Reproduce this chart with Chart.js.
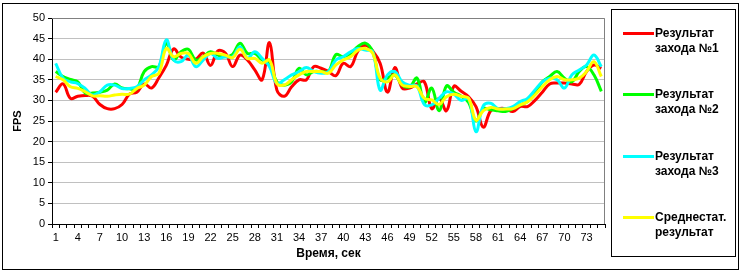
<!DOCTYPE html>
<html lang="ru">
<head>
<meta charset="UTF-8">
<title>FPS</title>
<script src="https://cdn.jsdelivr.net/npm/chart.js@4/dist/chart.umd.min.js"></script>
<style>
  body{margin:0;background:#fff;}
  .wrap{position:relative;width:745px;height:273px;font-family:Arial,"Liberation Sans",sans-serif;}
  .frame{position:absolute;left:2px;top:3px;width:737px;height:267px;border:1px solid #000;box-sizing:border-box;pointer-events:none;}
  .legend{position:absolute;left:611px;top:9px;width:125px;height:248px;border:1px solid #000;box-sizing:border-box;}
  .item{position:absolute;left:0;width:100%;}
  .swatch{position:absolute;left:11px;width:31px;height:3px;}
  .txt{position:absolute;left:43px;font-weight:bold;font-size:12px;line-height:15px;color:#000;white-space:nowrap;}
  canvas{position:absolute;left:0;top:0;}
</style>
</head>
<body>
<div class="wrap">
  <canvas id="c" width="745" height="273"></canvas>
  <div class="frame"></div>
  <div class="legend" id="legend"></div>
</div>
<script>
// categories: seconds 1..75
const seconds = Array.from({length: 75}, (_, i) => String(i + 1));
const tickStep = 3;
const yTicks = [0, 5, 10, 15, 20, 25, 30, 35, 40, 45, 50];

const run1 = [32,34,30.5,31,31.2,31,29,28,28,29,
  31.5,32,34,33,35.5,38.5,42.5,40.5,40,40,
  41.5,38.5,42,41.5,38.2,41,39.8,37.4,35,44,
  32.5,31,33.3,35,35,38.2,37.8,37,36,39,
  38.2,42,43.4,42,39,32,38,33,33,34,
  34.5,28,30.5,27.5,33.4,32.2,30.9,28.5,23.5,27.5,
  28,28,27.3,28.5,28.5,30,32,34,34.2,34.2,
  34,33.9,37,38.6,37.8];
const run2 = [37,35.8,35.1,34.5,31.8,31.8,32,32.5,34,33,
  32.8,32.8,37,38.2,38.2,43.9,39.8,41.8,42.4,39.8,
  40.6,41.8,41,40.6,41.2,43.9,41.4,41.4,39.8,39,
  34.5,33.7,34.5,37.8,36.2,37,37,37,41.1,40.6,
  41.4,43.1,43.9,41.8,35,35.4,36.2,33.7,33.3,35.4,
  29.5,33,27.5,33.5,32,31,29.5,25,28,27.7,
  27.5,27.3,28,28.9,29.7,31.7,34.5,35.8,37,35.4,
  34.5,37,38.2,36.2,32.2];
const run3 = [39,35.4,34.5,34.1,32.9,31.3,32.1,33.7,33.7,32.9,
  32.9,33.3,35,36.2,38.2,44.7,39.8,39.4,41,38.2,
  39.8,41.4,40.2,40.6,40.6,43,40.2,41.8,40.2,38.2,
  34.1,35,36.2,37,38,37,36.6,37,39.8,40.6,
  41.8,42.6,42.2,41.8,32.5,36.2,37,34.5,33.7,33.5,
  29,28.9,30.5,32.1,31.5,30,30.5,22.4,28.7,29.3,
  28,28,28.5,29.7,30.5,32.5,34.5,35.4,35,33,
  36.2,37.4,38.6,41,38.2];
const average = [35.8,35,33.3,32.9,32.1,31.1,31.1,31,31.3,31.5,
  31.5,32.9,33.7,35.8,36.6,42.6,40.6,41.4,41.4,39,
  40.6,41.4,41.4,41,40.4,42.4,40.2,40.2,39,39.8,
  34.1,33.7,35,36.2,37,37,37,36.6,38.6,39.8,
  40.6,42.2,42.6,41.4,35.4,34.5,36.2,33.7,33.4,33.3,
  30.5,30.1,29,30.9,31.5,31,30.5,25.2,27.5,28.3,
  27.9,27.9,28,28.9,29.7,31.3,33.3,35,35.8,35,
  35,35.4,37,39.4,35.8];

const seriesNames = [['Результат', 'захода №1'], ['Результат', 'захода №2'], ['Результат', 'захода №3'], ['Среднестат.', 'результат']];
const seriesColors = ['#ff0000', '#00ff00', '#00ffff', '#ffff00'];
const seriesData = [run1, run2, run3, average];

// legend (html so the two-line labels stay text)
const legend = document.getElementById('legend');
const legendRows = [22, 83, 145, 206];
seriesNames.forEach((name, i) => {
  const item = document.createElement('div');
  item.className = 'item';
  item.style.top = legendRows[i] + 'px';
  item.innerHTML = '<div class="swatch" style="top:0;background:' + seriesColors[i] + '"></div>' +
    '<div class="txt" style="top:-6px">' + name[0] + '<br>' + name[1] + '</div>';
  legend.appendChild(item);
});

// gray top/right border of plot area
const plotFrame = {
  id: 'plotFrame',
  beforeDatasetsDraw(chart) {
    const a = chart.chartArea;
    const ctx = chart.ctx;
    ctx.save();
    ctx.strokeStyle = '#808080';
    ctx.lineWidth = 1;
    ctx.beginPath();
    ctx.moveTo(a.left, a.top + 0.5);
    ctx.lineTo(a.right - 0.5, a.top + 0.5);
    ctx.lineTo(a.right - 0.5, a.bottom);
    ctx.stroke();
    ctx.restore();
  }
};

new Chart(document.getElementById('c'), {
  type: 'line',
  data: {
    labels: seconds,
    datasets: seriesData.map((d, i) => ({
      label: seriesNames[i].join(' '),
      data: d,
      borderColor: seriesColors[i],
      backgroundColor: seriesColors[i],
      borderWidth: 3,
      pointRadius: 0,
      tension: 0.4,
      fill: false,
      order: 4 - i
    }))
  },
  options: {
    responsive: false,
    animation: false,
    layout: {padding: {left: 4, top: 18, right: 140, bottom: 12}},
    plugins: {legend: {display: false}, tooltip: {enabled: false}},
    scales: {
      x: {
        offset: true,
        grid: {display: true, drawOnChartArea: false, drawTicks: true, tickLength: 4, tickColor: '#000', offset: true},
        border: {color: '#000', width: 1},
        ticks: {
          autoSkip: false, maxRotation: 0, padding: 3, color: '#000',
          font: {family: 'Arial', size: 11},
          callback: (v, i) => i % tickStep === 0 ? seconds[i] : ''
        },
        title: {display: true, text: 'Время, сек', color: '#000', font: {family: 'Arial', size: 12, weight: 'bold'}, padding: 0},
        afterFit: s => { s.height = 37; }
      },
      y: {
        min: 0, max: 50,
        afterBuildTicks: s => { s.ticks = yTicks.map(v => ({value: v})); },
        grid: {
          color: c => c.tick && c.tick.value === 0 ? 'rgba(0,0,0,0)' : '#c0c0c0',
          borderDash: [4, 3], tickLength: 4, tickColor: '#000', tickBorderDash: []
        },
        border: {color: '#000', width: 1, dash: []},
        ticks: {padding: 3, color: '#000', font: {family: 'Arial', size: 11}},
        title: {display: true, text: 'FPS', color: '#000', font: {family: 'Arial', size: 11, weight: 'bold'}, padding: {top: 7, bottom: 0}},
        afterFit: s => { s.width = 48; }
      }
    }
  },
  plugins: [plotFrame]
});
</script>
</body>
</html>
